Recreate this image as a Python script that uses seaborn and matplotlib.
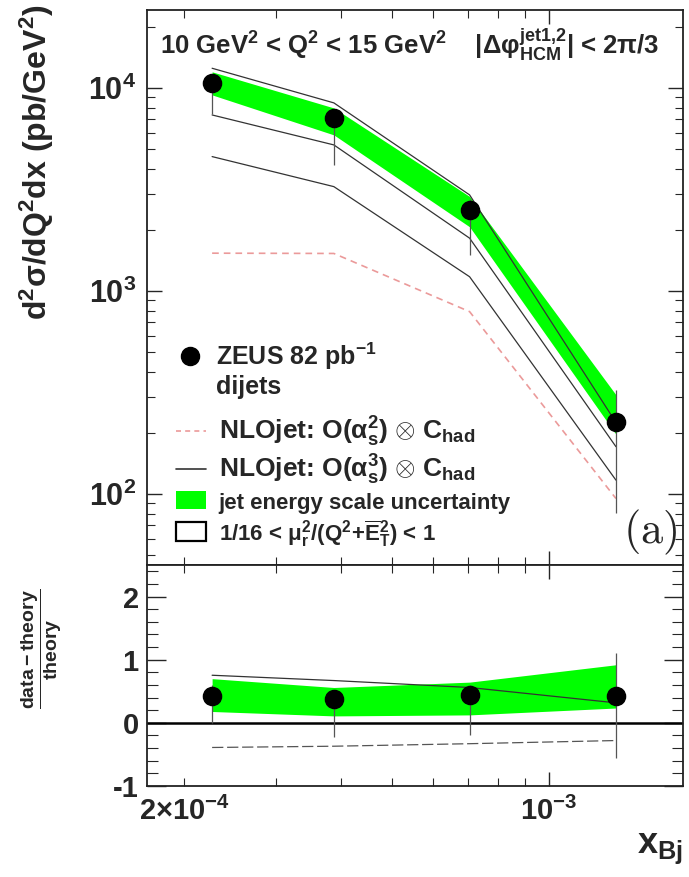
import numpy as np
import pandas as pd
import seaborn as sns
import matplotlib
matplotlib.use("Agg")
import matplotlib.pyplot as plt
from matplotlib.lines import Line2D
from matplotlib.patches import Patch
from matplotlib.ticker import FixedLocator, FixedFormatter, MultipleLocator, LogLocator, NullFormatter

# ---------------- data ----------------
xbj = [2.26e-4, 3.87e-4, 7.05e-4, 1.346e-3]

sigma = [1.055e4, 7100, 2506, 227]
sigma_err_lo = [7400, 4180, 1504, 80.5]
sigma_err_hi = [1.13e4, 7600, 2850, 325]
jes_lo = [9240, 5870, 2070, 197]
jes_hi = [1.2e4, 7970, 2920, 308]
nlo3 = [7360, 5240, 1820, 171]
nlo3_up = [1.25e4, 8440, 2973, 225]
nlo3_dn = [4590, 3265, 1175, 117]
nlo2 = [1535, 1530, 791, 95]

ratio = [0.426, 0.37, 0.44, 0.426]
ratio_err_lo = [0.0, -0.23, -0.20, -0.56]
ratio_err_hi = [0.6, 0.5, 0.6, 1.11]
ratio_jes_lo = [0.18, 0.11, 0.126, 0.235]
ratio_jes_hi = [0.70, 0.56, 0.645, 0.92]
ratio_up = [0.754, 0.67, 0.56, 0.317]
ratio_dn = [-0.39, -0.37, -0.33, -0.28]

ytick_vals = [1e2, 1e3, 1e4]
ytick_labels = [r"$10^{2}$", r"$10^{3}$", r"$10^{4}$"]
rtick_vals = [-1, 0, 1, 2]
rtick_labels = ["-1", "0", "1", "2"]
xtick_vals = [2e-4, 1e-3]
xtick_labels = [r"$2{\times}10^{-4}$", r"$10^{-3}$"]

# ---------------- style ----------------
sns.set_theme(style="white")
plt.rcParams["font.family"] = ["Liberation Sans", "DejaVu Sans"]
plt.rcParams.update({
    "font.weight": "bold",
    "mathtext.fontset": "custom",
    "mathtext.rm": "Liberation Sans:bold",
    "mathtext.it": "Liberation Sans:bold:italic",
    "mathtext.bf": "Liberation Sans:bold",
    "mathtext.sf": "Liberation Sans:bold",
    "mathtext.default": "bf",
    "axes.linewidth": 1.3,
    "axes.edgecolor": "#222222",
    "xtick.direction": "in",
    "ytick.direction": "in",
})

GREEN = "#00ff00"
PINK = "#eb9a9a"
LINE = "#333333"

W, H = 689, 877
fig = plt.figure(figsize=(W / 100, H / 100), dpi=100)
L, R = 147, 683
T1, B1, B2 = 10, 565, 786
ax1 = fig.add_axes([L / W, 1 - B1 / H, (R - L) / W, (B1 - T1) / H])
ax2 = fig.add_axes([L / W, 1 - B2 / H, (R - L) / W, (B2 - B1) / H])

xlim = (1.695e-4, 1.81e-3)

# ---------------- top panel ----------------
ax1.set_xscale("log")
ax1.set_yscale("log")
ax1.fill_between(xbj, jes_lo, jes_hi, color=GREEN, lw=0, zorder=1)
sns.lineplot(x=xbj, y=nlo2, ax=ax1, color=PINK, lw=1.2, linestyle=(0, (4, 3)), zorder=2)
sns.lineplot(x=xbj, y=nlo3, ax=ax1, color=LINE, lw=0.9, zorder=3)
sns.lineplot(x=xbj, y=nlo3_up, ax=ax1, color=LINE, lw=0.9, zorder=3)
sns.lineplot(x=xbj, y=nlo3_dn, ax=ax1, color=LINE, lw=0.9, zorder=3)
ax1.vlines(xbj, sigma_err_lo, sigma_err_hi, color="#555555", lw=0.9, zorder=4)
sns.scatterplot(x=xbj, y=sigma, ax=ax1, s=170, color="black", edgecolor="black", zorder=5)

ax1.set_xlim(*xlim)
ax1.set_ylim(44.7, 2.42e4)
ax1.yaxis.set_major_locator(FixedLocator(ytick_vals))
ax1.yaxis.set_major_formatter(FixedFormatter(ytick_labels))
ax1.yaxis.set_minor_locator(LogLocator(base=10, subs=np.arange(2, 10)))
ax1.yaxis.set_minor_formatter(NullFormatter())
ax1.xaxis.set_major_locator(FixedLocator([1e-3]))
ax1.xaxis.set_minor_locator(FixedLocator([2e-4, 3e-4, 4e-4, 5e-4, 6e-4, 7e-4, 8e-4, 9e-4]))
ax1.tick_params(axis="x", which="both", labelbottom=False, top=True, bottom=True)
ax1.tick_params(axis="y", which="both", left=True, right=True, labelsize=22, pad=8)
ax1.tick_params(axis="y", which="major", length=11, width=1.0)
ax1.tick_params(axis="y", which="minor", length=6, width=0.8)
ax1.tick_params(axis="x", which="major", length=10, width=1.0)
ax1.tick_params(axis="x", which="minor", length=6, width=0.8)

ax1.set_ylabel(r"d$^{2}$σ/dQ$^{2}$dx (pb/GeV$^{2}$)", fontsize=23, fontweight="bold", loc="top")
ax1.yaxis.set_label_coords(-0.17, 1.01)

ax1.text(0.025, 0.937,
         r"10 GeV$^{2}$ < Q$^{2}$ < 15 GeV$^{2}$    |Δφ$^{jet1{,}2}_{HCM}$| < 2π/3",
         transform=ax1.transAxes, fontsize=18.5, fontweight="bold", va="center", ha="left")
ax1.text(0.989, 0.058, r"$\mathrm{(a)}$", transform=ax1.transAxes, fontsize=32,
         math_fontfamily="cm", ha="right", va="center")

# legend part 1: data
handles_a = [
    Line2D([], [], marker="o", ls="none", color="black", markersize=13),
    Line2D([], [], ls="none"),
]
labels_a = [r"ZEUS 82 pb$^{-1}$", "dijets"]
leg_a = ax1.legend(handles_a, labels_a, loc="upper left", bbox_to_anchor=(0.055, 0.405),
                   frameon=False, handlelength=1.1, handletextpad=0.5, labelspacing=0.12,
                   borderpad=0, borderaxespad=0, prop={"size": 18, "weight": "bold"})
ax1.add_artist(leg_a)

# legend part 2: theory and uncertainties
handles_b = [
    Line2D([], [], color=PINK, ls=(0, (3, 2.5)), lw=1.2),
    Line2D([], [], color=LINE, lw=1.2),
    Patch(facecolor=GREEN, edgecolor="none"),
    Patch(facecolor="white", edgecolor="black", lw=1.6),
]
labels_b = [
    r"NLOjet: O($\alpha_{s}^{2}$) $\otimes$ C$_{had}$",
    r"NLOjet: O($\alpha_{s}^{3}$) $\otimes$ C$_{had}$",
    "jet energy scale uncertainty",
    r"1/16 < $\mu_{r}^{2}$/(Q$^{2}$+$\overline{E}_{T}^{2}$) < 1",
]
leg_b = ax1.legend(handles_b, labels_b, loc="upper left", bbox_to_anchor=(0.055, 0.27),
                   frameon=False, handlelength=1.1, handletextpad=0.5, labelspacing=0.14,
                   borderpad=0, borderaxespad=0, prop={"size": 19, "weight": "bold"})
for t in leg_b.get_texts()[2:]:
    t.set_fontsize(16)

# ---------------- ratio panel ----------------
ax2.set_xscale("log")
ax2.fill_between(xbj, ratio_jes_lo, ratio_jes_hi, color=GREEN, lw=0, zorder=1)
ax2.axhline(0, color="black", lw=1.8, zorder=2)
sns.lineplot(x=xbj, y=ratio_up, ax=ax2, color=LINE, lw=0.9, zorder=3)
sns.lineplot(x=xbj, y=ratio_dn, ax=ax2, color="#555555", lw=0.9, linestyle=(0, (9, 3)), zorder=3)
ax2.vlines(xbj, ratio_err_lo, ratio_err_hi, color="#555555", lw=0.9, zorder=4)
sns.scatterplot(x=xbj, y=ratio, ax=ax2, s=170, color="black", edgecolor="black", zorder=5)

ax2.set_xlim(*xlim)
ax2.set_ylim(-1.0, 2.5)
ax2.yaxis.set_major_locator(FixedLocator(rtick_vals))
ax2.yaxis.set_major_formatter(FixedFormatter(rtick_labels))
ax2.yaxis.set_minor_locator(MultipleLocator(0.2))
ax2.xaxis.set_major_locator(FixedLocator([1e-3]))
ax2.xaxis.set_major_formatter(FixedFormatter([xtick_labels[1]]))
ax2.xaxis.set_minor_locator(FixedLocator([2e-4, 3e-4, 4e-4, 5e-4, 6e-4, 7e-4, 8e-4, 9e-4]))
ax2.xaxis.set_minor_formatter(FixedFormatter([xtick_labels[0]] + [""] * 7))
ax2.tick_params(axis="x", which="both", top=True, bottom=True, labelsize=21, pad=8)
ax2.tick_params(axis="x", which="major", length=10, width=1.0)
ax2.tick_params(axis="x", which="minor", length=6, width=0.8)
ax2.tick_params(axis="y", which="both", left=True, right=True, labelsize=21, pad=6)
ax2.tick_params(axis="y", which="major", length=14, width=1.0)
ax2.tick_params(axis="y", which="minor", length=8, width=0.8)

ax2.set_ylabel(r"$\dfrac{data - theory}{theory}$", fontsize=14, rotation=90)
ax2.yaxis.set_label_coords(-0.155, 0.62)
ax2.set_xlabel(r"x$_{Bj}$", fontsize=26, fontweight="bold", loc="right")
ax2.xaxis.set_label_coords(1.0, -0.205)

fig.savefig("out.png", dpi=100)
